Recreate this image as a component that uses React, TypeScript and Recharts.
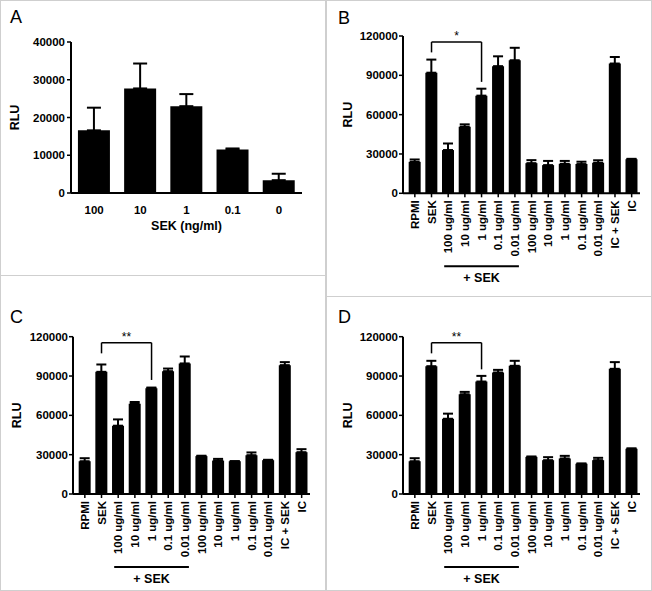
import React from "react";
import {
  BarChart,
  Bar,
  XAxis,
  YAxis,
  ErrorBar,
  ReferenceLine,
} from "recharts";

const FONT = '"Liberation Sans", Arial, Helvetica, sans-serif';

// panel A: SEK dose response
const DOSE_LABELS = ["100", "10", "1", "0.1", "0"];
const DOSE_RLU = [16600, 27700, 23000, 11500, 3400];
const DOSE_ERR = [6000, 6600, 3200, 300, 1700];
const DOSE_TICKS = [0, 10000, 20000, 30000, 40000];

// panels B-D: inhibitor series
const GROUP_KEYS = [
  "RPMI", "SEK",
  "100+SEK", "10+SEK", "1+SEK", "0.1+SEK", "0.01+SEK",
  "100", "10", "1", "0.1", "0.01",
  "IC+SEK", "IC",
];
const GROUP_LABELS = [
  "RPMI", "SEK",
  "100 ug/ml", "10 ug/ml", "1 ug/ml", "0.1 ug/ml", "0.01 ug/ml",
  "100 ug/ml", "10 ug/ml", "1 ug/ml", "0.1 ug/ml", "0.01 ug/ml",
  "IC + SEK", "IC",
];
const GROUP_TICKS = [0, 30000, 60000, 90000, 120000];

const B_RLU = [24000, 92000, 33000, 50800, 74500, 97000, 101500, 23000, 21500, 22500, 22300, 23300, 99000, 26000];
const B_ERR = [1800, 10000, 5000, 1800, 5300, 7500, 9500, 2300, 3200, 2200, 1800, 1900, 5000, 300];

const C_RLU = [25000, 93200, 52100, 68900, 80700, 93700, 99600, 28900, 25500, 25000, 29600, 25800, 98300, 31900];
const C_ERR = [2300, 5600, 4800, 1300, 500, 2000, 5300, 300, 1300, 0, 2100, 300, 2300, 2300];

const D_RLU = [25000, 97500, 57400, 76100, 85800, 92700, 97800, 28300, 25800, 27100, 23000, 25800, 95500, 34500];
const D_ERR = [2300, 4100, 3900, 1800, 4300, 2000, 3800, 300, 2300, 2000, 300, 1800, 5100, 300];

// significance brackets: [top, left leg end, right leg end]
const B_SIG = [115400, 107500, 85000];
const C_SIG = [115400, 107300, 87000];
const D_SIG = [115400, 107300, 95100];

const doseRows = DOSE_LABELS.map((dose, i) => ({
  dose,
  rlu: DOSE_RLU[i],
  err: [0, DOSE_ERR[i]],
}));

function groupRows(values: number[], errors: number[]) {
  return GROUP_KEYS.map((key, i) => ({ key, rlu: values[i], err: [0, errors[i]] }));
}

const tickStyle = { fill: "#000", fontSize: 11.5, fontWeight: "bold", fontFamily: FONT };
const axisLine = { stroke: "#000", strokeWidth: 2 };
const tickLine = { stroke: "#000", strokeWidth: 1.5 };

function RluLabel(props: any) {
  const { viewBox, left } = props;
  const cx = left;
  const cy = viewBox.y + viewBox.height / 2;
  return (
    <text
      x={cx}
      y={cy}
      transform={`rotate(-90, ${cx}, ${cy})`}
      textAnchor="middle"
      dominantBaseline="central"
      fill="#000"
      fontSize={12.5}
      fontWeight="bold"
      fontFamily={FONT}
    >
      RLU
    </text>
  );
}

function GroupTick(props: any) {
  const { x, y, payload } = props;
  const label = GROUP_LABELS[GROUP_KEYS.indexOf(payload.value)];
  return (
    <text
      x={x}
      y={y}
      transform={`rotate(-90, ${x}, ${y})`}
      textAnchor="end"
      dy="0.36em"
      fill="#000"
      fontSize={11.5}
      fontWeight="bold"
      fontFamily={FONT}
    >
      {label}
    </text>
  );
}

// line under the "+ SEK" group, drawn below the tick labels
function GroupUnderline(props: any) {
  const { x1, x2, y1 } = props;
  const y = y1 + 73;
  return (
    <g>
      <line x1={x1 - 4} x2={x2 + 4} y1={y} y2={y} stroke="#000" strokeWidth={2} />
      <text
        x={(x1 + x2) / 2}
        y={y + 16}
        textAnchor="middle"
        fill="#000"
        fontSize={12.5}
        fontWeight="bold"
        fontFamily={FONT}
      >
        + SEK
      </text>
    </g>
  );
}

function DosePanel() {
  return (
    <BarChart
      width={326}
      height={275}
      data={doseRows}
      margin={{ top: 42, right: 24, left: 0, bottom: 0 }}
      barCategoryGap="15%"
    >
      <XAxis
        dataKey="dose"
        height={82}
        axisLine={axisLine}
        tickLine={false}
        tick={tickStyle}
        tickMargin={7}
        label={{
          value: "SEK (ng/ml)",
          position: "insideTop",
          offset: 28,
          fill: "#000",
          fontSize: 12.5,
          fontWeight: "bold",
          fontFamily: FONT,
        }}
      />
      <YAxis
        width={71}
        domain={[0, 40000]}
        ticks={DOSE_TICKS}
        axisLine={axisLine}
        tickLine={tickLine}
        tickSize={4}
        tickMargin={2}
        tick={tickStyle}
        label={<RluLabel left={15} />}
      />
      <Bar dataKey="rlu" fill="#000" isAnimationActive={false}>
        <ErrorBar dataKey="err" width={7} stroke="#000" strokeWidth={2} isAnimationActive={false} />
      </Bar>
    </BarChart>
  );
}

function GroupPanel({
  values,
  errors,
  sig,
  stars,
  height,
  top,
  axisWidth,
  right,
  labelLeft,
}: {
  values: number[];
  errors: number[];
  sig: number[];
  stars: string;
  height: number;
  top: number;
  axisWidth: number;
  right: number;
  labelLeft: number;
}) {
  const plotHeight = 157.3;
  return (
    <BarChart
      width={326}
      height={height}
      data={groupRows(values, errors)}
      margin={{ top, right, left: 0, bottom: 0 }}
      barCategoryGap="13%"
    >
      <XAxis
        dataKey="key"
        height={height - top - plotHeight}
        padding={{ left: 3.5, right: 0 }}
        interval={0}
        axisLine={axisLine}
        tickLine={tickLine}
        tickSize={4}
        tickMargin={3}
        tick={<GroupTick />}
      />
      <YAxis
        width={axisWidth}
        domain={[0, 120000]}
        ticks={GROUP_TICKS}
        axisLine={axisLine}
        tickLine={tickLine}
        tickSize={4}
        tickMargin={1}
        tick={tickStyle}
        label={<RluLabel left={labelLeft} />}
      />
      <Bar dataKey="rlu" fill="#000" isAnimationActive={false}>
        <ErrorBar dataKey="err" width={5} stroke="#000" strokeWidth={2} isAnimationActive={false} />
      </Bar>
      <ReferenceLine
        segment={[{ x: "SEK", y: sig[0] }, { x: "1+SEK", y: sig[0] }]}
        stroke="#000"
        strokeWidth={1.5}
        ifOverflow="visible"
        label={{ value: stars, position: "top", offset: 2, fill: "#000", fontSize: 12, fontFamily: FONT }}
      />
      <ReferenceLine
        segment={[{ x: "SEK", y: sig[0] }, { x: "SEK", y: sig[1] }]}
        stroke="#000"
        strokeWidth={1.5}
        ifOverflow="visible"
      />
      <ReferenceLine
        segment={[{ x: "1+SEK", y: sig[0] }, { x: "1+SEK", y: sig[2] }]}
        stroke="#000"
        strokeWidth={1.5}
        ifOverflow="visible"
      />
      <ReferenceLine
        segment={[{ x: "100+SEK", y: 0 }, { x: "0.01+SEK", y: 0 }]}
        ifOverflow="visible"
        shape={<GroupUnderline />}
      />
    </BarChart>
  );
}

const panelLetter = (text: string, left: number, top: number) => (
  <div
    style={{
      position: "absolute",
      left,
      top,
      fontFamily: FONT,
      fontSize: 18,
      lineHeight: "18px",
      color: "#000",
    }}
  >
    {text}
  </div>
);

const grey = "#cfcfcf";

export default function App() {
  return (
    <div
      style={{
        position: "absolute",
        left: 0,
        top: 0,
        width: 652,
        height: 591,
        background: "#fff",
        overflow: "hidden",
      }}
    >
      {/* frame and dividers */}
      <div style={{ position: "absolute", left: 0, top: 0, width: 650, height: 589, border: `1px solid ${grey}` }} />
      <div style={{ position: "absolute", left: 325, top: 0, width: 2, height: 591, background: grey }} />
      <div style={{ position: "absolute", left: 0, top: 275, width: 326, height: 1, background: grey }} />
      <div style={{ position: "absolute", left: 326, top: 296, width: 326, height: 1, background: grey }} />

      <div style={{ position: "absolute", left: 0, top: 0 }}>
        <DosePanel />
      </div>
      <div style={{ position: "absolute", left: 326, top: 0 }}>
        <GroupPanel values={B_RLU} errors={B_ERR} sig={B_SIG} stars="*" height={296} top={36} axisWidth={77} right={12} labelLeft={22} />
      </div>
      <div style={{ position: "absolute", left: 0, top: 275 }}>
        <GroupPanel values={C_RLU} errors={C_ERR} sig={C_SIG} stars="**" height={316} top={61.7} axisWidth={73} right={16} labelLeft={17} />
      </div>
      <div style={{ position: "absolute", left: 326, top: 296 }}>
        <GroupPanel values={D_RLU} errors={D_ERR} sig={D_SIG} stars="**" height={295} top={40.7} axisWidth={77} right={12} labelLeft={22} />
      </div>

      {panelLetter("A", 10, 7.6)}
      {panelLetter("B", 338, 9.3)}
      {panelLetter("C", 10, 307.6)}
      {panelLetter("D", 338, 307.6)}
    </div>
  );
}
